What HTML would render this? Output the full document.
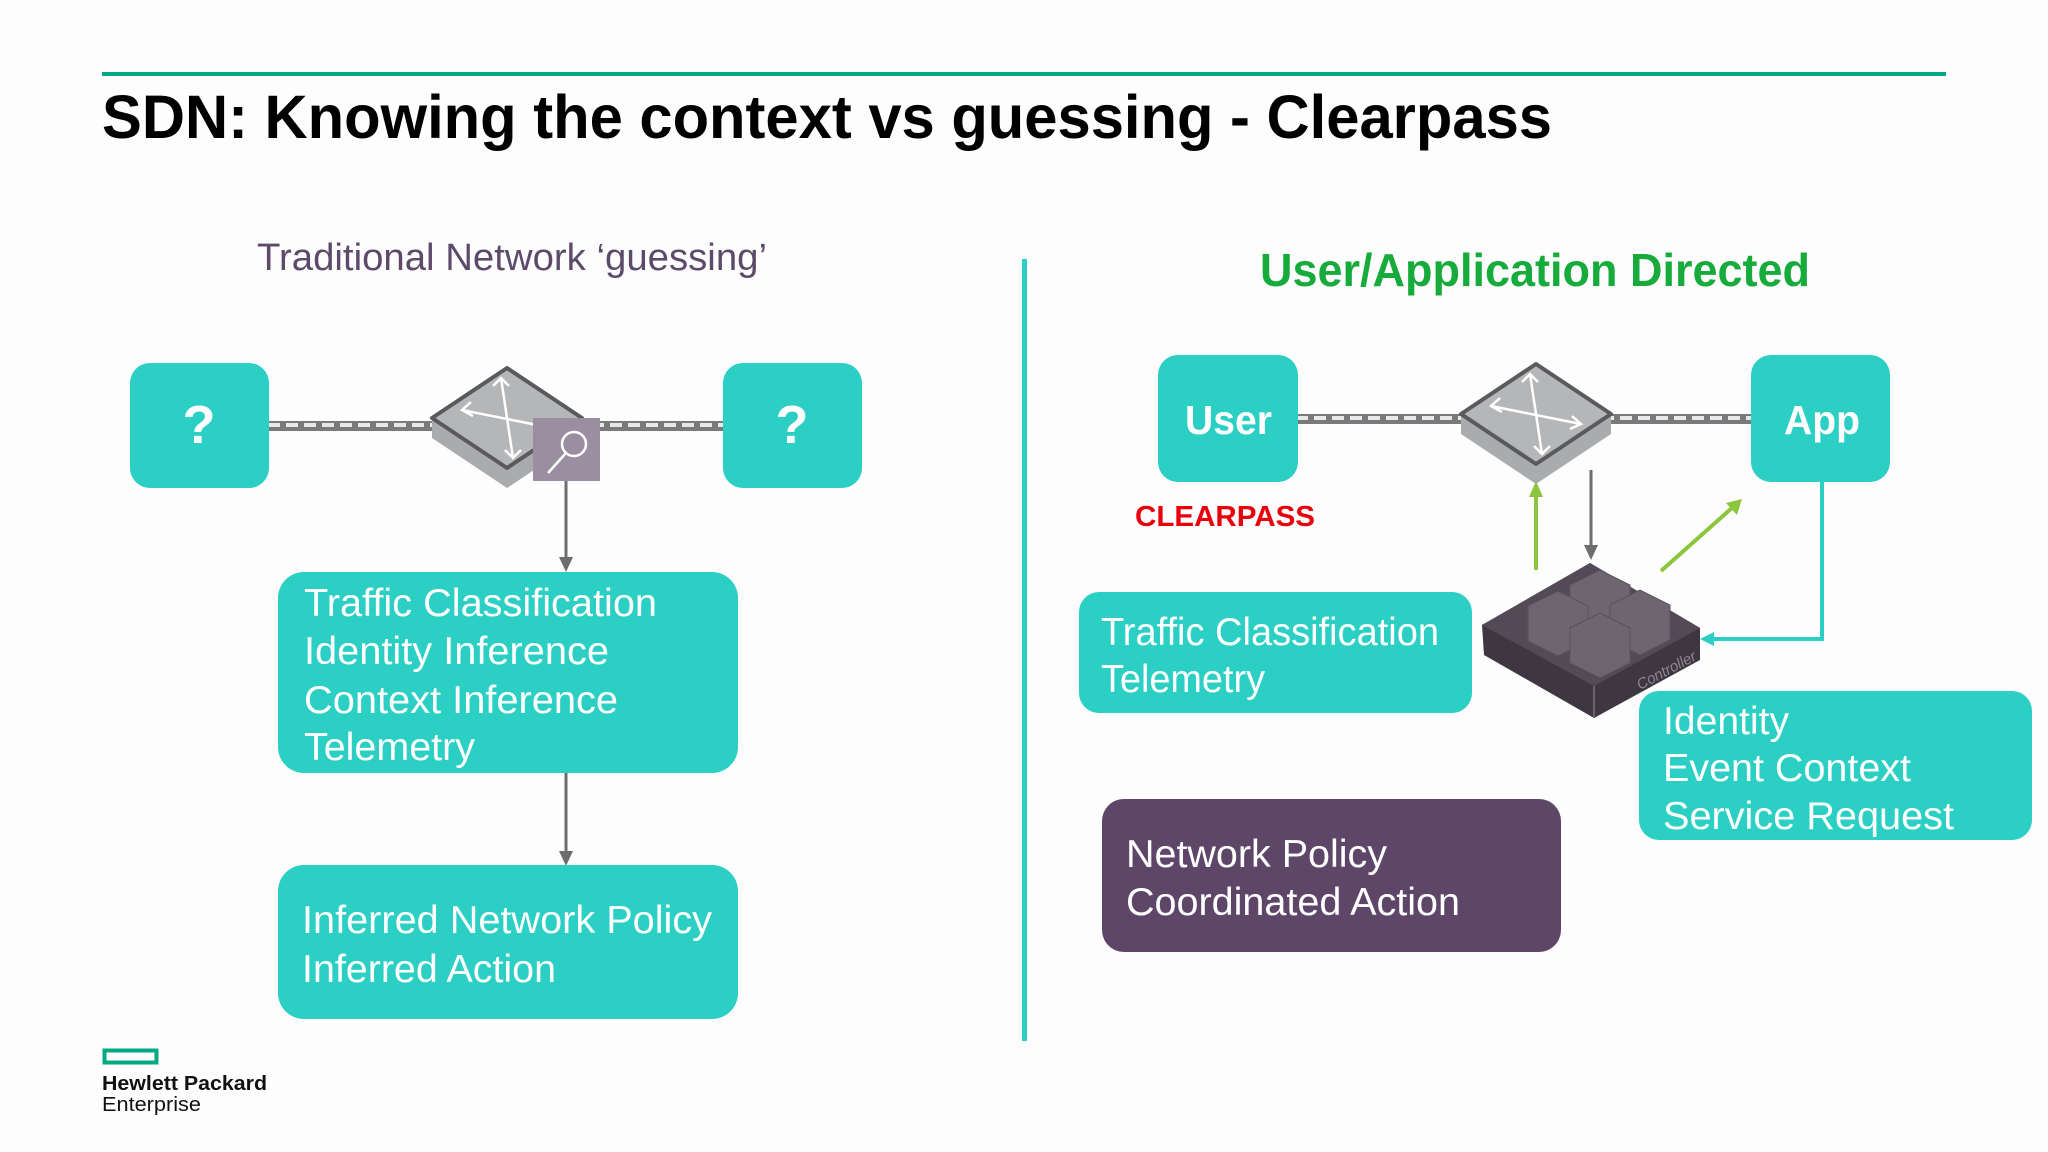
<!DOCTYPE html>
<html><head><meta charset="utf-8"><style>
html,body{margin:0;padding:0;background:#fdfdfd;}
svg{display:block;}
text{font-family:"Liberation Sans",sans-serif;}
</style></head><body>
<svg width="2048" height="1152" viewBox="0 0 2048 1152" xmlns="http://www.w3.org/2000/svg">
<defs>
<g id="sw">
  <polygon points="-75,0 0,-50 75,0 75,20 0,70 -75,20" fill="#a9abad"/>
  <polygon points="-75,0 0,-50 75,0 0,50" fill="#b4b6b8" stroke="#5a5a5c" stroke-width="4" stroke-linejoin="round"/>
  <g stroke="#fff" stroke-width="2.5" fill="none">
    <line x1="-45" y1="-8" x2="45" y2="10"/><line x1="-6" y1="-40" x2="6" y2="40"/>
    <polyline points="-36,-16 -45,-8 -34,-2"/><polyline points="36,2 45,10 34,15"/>
    <polyline points="-14,-32 -6,-40 2,-32"/><polyline points="-2,32 6,40 14,32"/>
  </g>
</g>
</defs>

<rect width="2048" height="1152" fill="#fdfdfd"/>
<rect x="102" y="72" width="1844" height="4" fill="#01a982"/>
<text x="102" y="138" font-size="61" font-weight="bold" fill="#000" textLength="1450" lengthAdjust="spacingAndGlyphs">SDN: Knowing the context vs guessing - Clearpass</text>

<text x="257" y="270" font-size="38" fill="#5d4a6a" textLength="510" lengthAdjust="spacingAndGlyphs">Traditional Network ‘guessing’</text>
<rect x="1022" y="259" width="5" height="782" fill="#2bcfc4"/>
<text x="1260" y="286" font-size="46" font-weight="bold" fill="#17ab3b" textLength="550" lengthAdjust="spacingAndGlyphs">User/Application Directed</text>

<!-- LEFT -->
<line x1="268" y1="426" x2="728" y2="426" stroke="#7a7a7c" stroke-width="10"/>
<line x1="268" y1="425" x2="728" y2="425" stroke="#e8e8e8" stroke-width="4" stroke-dasharray="12 6"/>
<rect x="130" y="363" width="139" height="125" rx="20" fill="#2bcfc4"/>
<rect x="723" y="363" width="139" height="125" rx="20" fill="#2bcfc4"/>
<text x="199" y="443" font-size="54" font-weight="bold" fill="#fff" text-anchor="middle">?</text>
<text x="792" y="443" font-size="54" font-weight="bold" fill="#fff" text-anchor="middle">?</text>
<use href="#sw" x="507" y="418"/>
<rect x="533" y="418" width="67" height="63" fill="#9a8ea0"/>
<circle cx="574" cy="444" r="12" fill="none" stroke="#fff" stroke-width="2.5"/>
<line x1="566" y1="453" x2="548" y2="473" stroke="#fff" stroke-width="2.5"/>
<line x1="566" y1="481" x2="566" y2="560" stroke="#6d6d70" stroke-width="3"/>
<polygon points="559,557 573,557 566,572" fill="#6d6d70"/>
<rect x="278" y="572" width="460" height="201" rx="26" fill="#2bcfc4"/>
<g font-size="39" fill="#fff">
<text x="304" y="616" textLength="353" lengthAdjust="spacingAndGlyphs">Traffic Classification</text>
<text x="304" y="664" textLength="305" lengthAdjust="spacingAndGlyphs">Identity Inference</text>
<text x="304" y="713" textLength="314" lengthAdjust="spacingAndGlyphs">Context Inference</text>
<text x="304" y="760" textLength="171" lengthAdjust="spacingAndGlyphs">Telemetry</text>
</g>
<line x1="566" y1="773" x2="566" y2="854" stroke="#6d6d70" stroke-width="3"/>
<polygon points="559,851 573,851 566,866" fill="#6d6d70"/>
<rect x="278" y="865" width="460" height="154" rx="26" fill="#2bcfc4"/>
<g font-size="39" fill="#fff">
<text x="302" y="933" textLength="410" lengthAdjust="spacingAndGlyphs">Inferred Network Policy</text>
<text x="302" y="982" textLength="254" lengthAdjust="spacingAndGlyphs">Inferred Action</text>
</g>

<!-- RIGHT -->
<line x1="1296" y1="419" x2="1756" y2="419" stroke="#7a7a7c" stroke-width="10"/>
<line x1="1296" y1="418" x2="1756" y2="418" stroke="#e8e8e8" stroke-width="4" stroke-dasharray="12 6"/>
<rect x="1158" y="355" width="140" height="127" rx="20" fill="#2bcfc4"/>
<rect x="1751" y="355" width="139" height="127" rx="20" fill="#2bcfc4"/>
<text x="1185" y="434" font-size="41" font-weight="bold" fill="#fff" textLength="87" lengthAdjust="spacingAndGlyphs">User</text>
<text x="1784" y="434" font-size="41" font-weight="bold" fill="#fff" textLength="76" lengthAdjust="spacingAndGlyphs">App</text>
<use href="#sw" x="1536" y="414"/>
<text x="1135" y="526" font-size="29" font-weight="bold" fill="#e8000b" textLength="180" lengthAdjust="spacingAndGlyphs">CLEARPASS</text>

<line x1="1536" y1="570" x2="1536" y2="495" stroke="#8cc63f" stroke-width="4"/>
<polygon points="1529,497 1543,497 1536,481" fill="#8cc63f"/>
<line x1="1591" y1="470" x2="1591" y2="548" stroke="#6d6d70" stroke-width="3"/>
<polygon points="1584,545 1598,545 1591,560" fill="#6d6d70"/>
<line x1="1661" y1="571" x2="1733" y2="507" stroke="#8cc63f" stroke-width="4"/>
<polygon points="1742,499 1737,515 1726,503" fill="#8cc63f"/>
<polyline points="1822,482 1822,639 1712,639" fill="none" stroke="#2bcfc4" stroke-width="4"/>
<polygon points="1700,639 1714,632 1714,646" fill="#2bcfc4"/>

<!-- controller -->
<polygon points="1482,625 1590,563 1700,628 1700,660 1594,718 1484,655" fill="#3e3641"/>
<polygon points="1482,625 1590,563 1700,628 1594,686" fill="#544a57"/>
<line x1="1594" y1="686" x2="1594" y2="718" stroke="#6a626c" stroke-width="2"/>
<text x="1640" y="690" font-size="15" fill="#8e8590" transform="rotate(-28 1640 690)" font-style="italic">Controller</text>
<g fill="#6e6571" stroke="#5a5160" stroke-width="1">
<polygon points="1570,585 1600,570 1630,585 1630,620 1600,635 1570,620"/>
<polygon points="1528,606 1558,591 1588,606 1588,641 1558,656 1528,641"/>
<polygon points="1610,605 1640,590 1670,605 1670,640 1640,655 1610,640"/>
<polygon points="1570,628 1600,613 1630,628 1630,663 1600,678 1570,663"/>
</g>

<rect x="1079" y="592" width="393" height="121" rx="20" fill="#2bcfc4"/>
<g font-size="39" fill="#fff">
<text x="1101" y="645" textLength="338" lengthAdjust="spacingAndGlyphs">Traffic Classification</text>
<text x="1101" y="692" textLength="164" lengthAdjust="spacingAndGlyphs">Telemetry</text>
</g>
<rect x="1639" y="691" width="393" height="149" rx="20" fill="#2bcfc4"/>
<g font-size="39" fill="#fff">
<text x="1663" y="734" textLength="126" lengthAdjust="spacingAndGlyphs">Identity</text>
<text x="1663" y="781" textLength="248" lengthAdjust="spacingAndGlyphs">Event Context</text>
<text x="1663" y="829" textLength="291" lengthAdjust="spacingAndGlyphs">Service Request</text>
</g>
<rect x="1102" y="799" width="459" height="153" rx="22" fill="#5e4668"/>
<g font-size="39" fill="#fff">
<text x="1126" y="867" textLength="261" lengthAdjust="spacingAndGlyphs">Network Policy</text>
<text x="1126" y="915" textLength="334" lengthAdjust="spacingAndGlyphs">Coordinated Action</text>
</g>

<!-- logo -->
<rect x="104.5" y="1050.5" width="52" height="12" fill="none" stroke="#01a982" stroke-width="4"/>
<text x="102" y="1090" font-size="20" font-weight="bold" fill="#111" textLength="165" lengthAdjust="spacingAndGlyphs">Hewlett Packard</text>
<text x="102" y="1111" font-size="20" fill="#111" textLength="99" lengthAdjust="spacingAndGlyphs">Enterprise</text>
</svg>
</body></html>
